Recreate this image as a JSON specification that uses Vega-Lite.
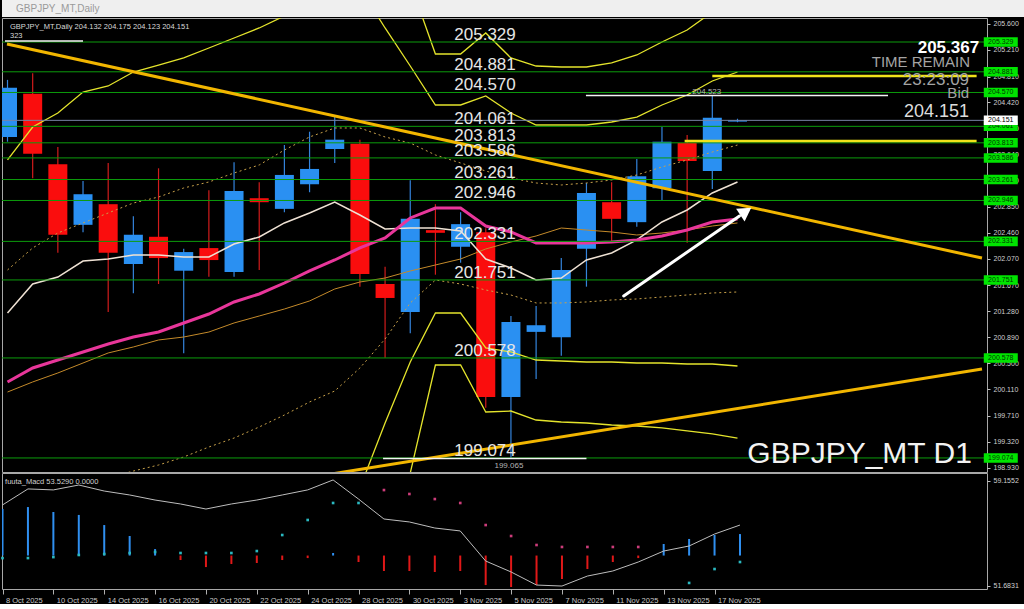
{
"$schema": "https://vega.github.io/schema/vega-lite/v6.json",
"background": "#000000",
"padding": 0,
"bounds": "flush",
"spacing": 1,
"config": {"view": {"stroke": "#a8a8a8", "strokeWidth": 1}, "text": {"font": "Liberation Sans"}, "axis": {"labelFont": "Liberation Sans"}},
"datasets": {
"one": [{"k": 1}],
"ohlc": [
{"i":0,"d":"8 Oct 2025","o":203.90,"h":204.76,"l":203.83,"c":204.64},
{"i":1,"d":"9 Oct 2025","o":204.55,"h":204.86,"l":203.28,"c":203.65},
{"i":2,"d":"10 Oct 2025","o":203.49,"h":203.75,"l":202.16,"c":202.43},
{"i":3,"d":"13 Oct 2025","o":202.58,"h":203.24,"l":202.47,"c":203.04},
{"i":4,"d":"14 Oct 2025","o":202.89,"h":203.51,"l":201.27,"c":202.16},
{"i":5,"d":"15 Oct 2025","o":201.99,"h":202.71,"l":201.55,"c":202.43},
{"i":6,"d":"16 Oct 2025","o":202.40,"h":203.43,"l":201.69,"c":202.08},
{"i":7,"d":"17 Oct 2025","o":201.89,"h":202.22,"l":200.65,"c":202.17},
{"i":8,"d":"20 Oct 2025","o":202.23,"h":203.10,"l":201.80,"c":202.05},
{"i":9,"d":"21 Oct 2025","o":201.87,"h":203.52,"l":201.80,"c":203.09},
{"i":10,"d":"22 Oct 2025","o":202.98,"h":203.22,"l":201.90,"c":202.92},
{"i":11,"d":"23 Oct 2025","o":202.82,"h":203.78,"l":202.77,"c":203.33},
{"i":12,"d":"24 Oct 2025","o":203.19,"h":203.98,"l":203.07,"c":203.42},
{"i":13,"d":"27 Oct 2025","o":203.72,"h":204.20,"l":203.51,"c":203.86},
{"i":14,"d":"28 Oct 2025","o":203.80,"h":203.86,"l":201.65,"c":201.84},
{"i":15,"d":"29 Oct 2025","o":201.69,"h":201.95,"l":200.58,"c":201.48},
{"i":16,"d":"30 Oct 2025","o":201.27,"h":203.25,"l":200.95,"c":202.67},
{"i":17,"d":"31 Oct 2025","o":202.50,"h":202.89,"l":201.83,"c":202.46},
{"i":18,"d":"3 Nov 2025","o":202.25,"h":202.77,"l":202.01,"c":202.59},
{"i":19,"d":"4 Nov 2025","o":202.47,"h":202.53,"l":199.83,"c":199.99},
{"i":20,"d":"5 Nov 2025","o":199.99,"h":201.21,"l":199.065,"c":201.12},
{"i":21,"d":"6 Nov 2025","o":200.97,"h":201.36,"l":200.26,"c":201.07},
{"i":22,"d":"7 Nov 2025","o":200.89,"h":202.08,"l":200.61,"c":201.90},
{"i":23,"d":"10 Nov 2025","o":202.22,"h":203.21,"l":201.65,"c":203.06},
{"i":24,"d":"11 Nov 2025","o":202.92,"h":203.22,"l":202.32,"c":202.67},
{"i":25,"d":"12 Nov 2025","o":202.62,"h":203.57,"l":202.55,"c":203.31},
{"i":26,"d":"13 Nov 2025","o":203.13,"h":204.05,"l":202.95,"c":203.83},
{"i":27,"d":"14 Nov 2025","o":203.81,"h":203.93,"l":202.31,"c":203.54},
{"i":28,"d":"17 Nov 2025","o":203.39,"h":204.523,"l":203.12,"c":204.19},
{"i":29,"d":"18 Nov 2025","o":204.132,"h":204.175,"l":204.123,"c":204.151}
],
"ind": [
{"i":0,"pink":200.217,"white":201.254,"orange":200.066,"bu":201.901,"bl":198.141,"y0":203.555,"uu":null,"ul":null,"lu":null,"ll":null,"macd":57.45,"hist":57.16,"dot":53.67,"dotc":"c"},
{"i":1,"pink":200.427,"white":201.690,"orange":200.217,"bu":202.232,"bl":198.292,"y0":204.051,"uu":null,"ul":null,"lu":null,"ll":null,"macd":58.59,"hist":57.30,"dot":53.67,"dotc":"c"},
{"i":2,"pink":200.547,"white":201.795,"orange":200.352,"bu":202.457,"bl":198.442,"y0":204.262,"uu":null,"ul":null,"lu":null,"ll":null,"macd":58.52,"hist":56.95,"dot":53.74,"dotc":"c"},
{"i":3,"pink":200.668,"white":202.036,"orange":200.502,"bu":202.608,"bl":198.623,"y0":204.577,"uu":null,"ul":null,"lu":null,"ll":null,"macd":58.87,"hist":56.74,"dot":53.89,"dotc":"c"},
{"i":4,"pink":200.788,"white":202.066,"orange":200.653,"bu":202.758,"bl":198.773,"y0":204.668,"uu":null,"ul":null,"lu":null,"ll":null,"macd":58.44,"hist":56.02,"dot":53.96,"dotc":"c"},
{"i":5,"pink":200.893,"white":202.126,"orange":200.743,"bu":202.908,"bl":198.878,"y0":204.878,"uu":null,"ul":null,"lu":null,"ll":null,"macd":58.16,"hist":55.24,"dot":54.03,"dotc":"c"},
{"i":6,"pink":200.968,"white":202.126,"orange":200.848,"bu":202.998,"bl":198.968,"y0":204.983,"uu":null,"ul":null,"lu":null,"ll":null,"macd":57.80,"hist":54.31,"dot":54.10,"dotc":"c"},
{"i":7,"pink":201.104,"white":202.096,"orange":200.893,"bu":203.134,"bl":199.089,"y0":205.089,"uu":null,"ul":null,"lu":null,"ll":null,"macd":57.52,"hist":53.53,"dot":54.03,"dotc":"c"},
{"i":8,"pink":201.239,"white":202.096,"orange":200.968,"bu":203.224,"bl":199.239,"y0":205.239,"uu":null,"ul":null,"lu":null,"ll":null,"macd":57.16,"hist":53.03,"dot":54.03,"dotc":"c"},
{"i":9,"pink":201.420,"white":202.292,"orange":201.104,"bu":203.359,"bl":199.374,"y0":205.389,"uu":null,"ul":null,"lu":null,"ll":null,"macd":57.52,"hist":53.25,"dot":54.03,"dotc":"c"},
{"i":10,"pink":201.540,"white":202.397,"orange":201.209,"bu":203.480,"bl":199.540,"y0":205.540,"uu":null,"ul":null,"lu":null,"ll":null,"macd":57.80,"hist":53.32,"dot":54.17,"dotc":"c"},
{"i":11,"pink":201.705,"white":202.608,"orange":201.314,"bu":203.705,"bl":199.720,"y0":205.720,"uu":null,"ul":null,"lu":null,"ll":null,"macd":58.16,"hist":53.53,"dot":55.31,"dotc":"c"},
{"i":12,"pink":201.886,"white":202.758,"orange":201.435,"bu":203.901,"bl":199.916,"y0":205.916,"uu":null,"ul":null,"lu":null,"ll":null,"macd":58.52,"hist":53.67,"dot":56.38,"dotc":"c"},
{"i":13,"pink":202.051,"white":202.923,"orange":201.615,"bu":204.036,"bl":200.081,"y0":null,"uu":null,"ul":null,"lu":null,"ll":null,"macd":59.23,"hist":54.03,"dot":57.59,"dotc":"c"},
{"i":14,"pink":202.232,"white":202.728,"orange":201.720,"bu":204.036,"bl":200.427,"y0":null,"uu":null,"ul":206.141,"lu":198.623,"ll":null,"macd":57.87,"hist":53.39,"dot":57.59,"dotc":"c"},
{"i":15,"pink":202.382,"white":202.517,"orange":201.780,"bu":203.901,"bl":200.863,"y0":null,"uu":null,"ul":205.540,"lu":199.600,"ll":197.314,"macd":56.45,"hist":52.75,"dot":58.51,"dotc":"p"},
{"i":16,"pink":202.683,"white":202.532,"orange":201.886,"bu":203.810,"bl":201.405,"y0":null,"uu":206.217,"ul":204.968,"lu":200.517,"ll":198.848,"macd":56.24,"hist":52.75,"dot":58.23,"dotc":"p"},
{"i":17,"pink":202.833,"white":202.532,"orange":201.976,"bu":203.630,"bl":201.750,"y0":null,"uu":205.149,"ul":204.382,"lu":201.254,"ll":200.472,"macd":55.81,"hist":52.68,"dot":57.87,"dotc":"p"},
{"i":18,"pink":202.833,"white":202.487,"orange":202.066,"bu":203.510,"bl":201.690,"y0":null,"uu":205.149,"ul":204.382,"lu":201.254,"ll":200.472,"macd":55.60,"hist":52.75,"dot":57.59,"dotc":"p"},
{"i":19,"pink":202.562,"white":202.066,"orange":202.217,"bu":203.389,"bl":201.600,"y0":null,"uu":205.465,"ul":204.517,"lu":200.728,"ll":199.765,"macd":53.46,"hist":51.75,"dot":56.02,"dotc":"p"},
{"i":20,"pink":202.472,"white":201.931,"orange":202.322,"bu":203.284,"bl":201.525,"y0":null,"uu":205.089,"ul":204.262,"lu":200.668,"ll":199.780,"macd":52.68,"hist":51.61,"dot":55.24,"dotc":"p"},
{"i":21,"pink":202.307,"white":201.750,"orange":202.412,"bu":203.209,"bl":201.405,"y0":null,"uu":204.968,"ul":204.081,"lu":200.547,"ll":199.645,"macd":51.75,"hist":51.75,"dot":54.60,"dotc":"p"},
{"i":22,"pink":202.307,"white":201.780,"orange":202.532,"bu":203.179,"bl":201.405,"y0":null,"uu":204.953,"ul":204.081,"lu":200.532,"ll":199.615,"macd":51.68,"hist":52.18,"dot":54.46,"dotc":"p"},
{"i":23,"pink":202.307,"white":202.051,"orange":202.502,"bu":203.209,"bl":201.420,"y0":null,"uu":204.953,"ul":204.081,"lu":200.517,"ll":199.600,"macd":52.39,"hist":52.89,"dot":54.46,"dotc":"p"},
{"i":24,"pink":202.322,"white":202.156,"orange":202.472,"bu":203.254,"bl":201.450,"y0":null,"uu":205.014,"ul":204.126,"lu":200.517,"ll":199.570,"macd":52.75,"hist":53.39,"dot":54.46,"dotc":"p"},
{"i":25,"pink":202.352,"white":202.352,"orange":202.427,"bu":203.329,"bl":201.465,"y0":null,"uu":205.134,"ul":204.201,"lu":200.502,"ll":199.555,"macd":53.39,"hist":53.67,"dot":54.46,"dotc":"p"},
{"i":26,"pink":202.412,"white":202.623,"orange":202.457,"bu":203.450,"bl":201.495,"y0":null,"uu":205.329,"ul":204.382,"lu":200.502,"ll":199.525,"macd":54.17,"hist":54.67,"dot":null,"dotc":"c"},
{"i":27,"pink":202.502,"white":202.803,"orange":202.502,"bu":203.555,"bl":201.525,"y0":null,"uu":205.510,"ul":204.532,"lu":200.487,"ll":199.480,"macd":54.53,"hist":55.03,"dot":51.90,"dotc":"c"},
{"i":28,"pink":202.623,"white":203.059,"orange":202.562,"bu":203.675,"bl":201.555,"y0":null,"uu":205.780,"ul":204.743,"lu":200.487,"ll":199.435,"macd":55.38,"hist":55.31,"dot":52.89,"dotc":"c"},
{"i":29,"pink":202.668,"white":203.224,"orange":202.608,"bu":203.780,"bl":201.570,"y0":null,"uu":206.036,"ul":204.878,"lu":200.457,"ll":199.374,"macd":56.02,"hist":55.38,"dot":53.39,"dotc":"c"}
],
"levels": [{"v":205.329},{"v":204.881},{"v":204.570},{"v":204.061},{"v":203.813},{"v":203.586},{"v":203.261},{"v":202.946},{"v":202.331},{"v":201.751},{"v":200.578},{"v":199.074}],
"bid": [{"v":204.151}],
"wsegs": [{"x":-0.1,"x2":3.0,"y":205.344},{"x":22.98,"x2":34.98,"y":204.523},{"x":14.92,"x2":23.0,"y":199.065}],
"ysegs": [{"x":28.0,"x2":38.5,"y":204.818},{"x":26.9,"x2":38.5,"y":203.841}],
"trend": [{"s":"down","i":-0.02,"p":205.30},{"s":"down","i":38.714,"p":202.08},{"s":"up","i":12.0,"p":198.78},{"s":"up","i":38.714,"p":200.412}],
"arrow": [{"x":24.48,"y":201.51,"x2":29.08,"y2":202.713}],
"arrowhead": [{"x":29.33,"y":202.781}]
},
"vconcat": [
{
"width": 1024, "height": 17,
"view": {"fill": "#efefef", "stroke": null},
"data": {"values": [{"t": "GBPJPY_MT,Daily"}]},
"mark": {"type": "text", "align": "left", "baseline": "middle", "fontSize": 10, "color": "#9a9a9a"},
"encoding": {
"text": {"field": "t"},
"x": {"datum": 0.0137, "type": "quantitative", "scale": {"domain": [0, 1]}, "axis": null},
"y": {"datum": 0.5, "type": "quantitative", "scale": {"domain": [0, 1]}, "axis": null}
}
},
{
"width": 985, "height": 454,
"data": {"name": "one"},
"resolve": {"axis": {"x": "independent", "y": "independent"}},
"layer": [
{"data": {"name": "ohlc"}, "mark": {"type": "rule", "strokeWidth": 1.2, "clip": true},
"encoding": {
"x": {"field": "i", "type": "quantitative", "scale": {"domain": [-0.02, 38.714], "nice": false, "zero": false}, "axis": null},
"y": {"field": "l", "type": "quantitative", "scale": {"domain": [198.863, 205.69], "nice": false, "zero": false},
"axis": {"orient": "right", "title": null, "values": [205.6, 205.21, 204.81, 204.42, 204.03, 203.64, 203.24, 202.85, 202.46, 202.07, 201.67, 201.28, 200.89, 200.5, 200.11, 199.71, 199.32, 198.93], "format": ".3f", "labelFontSize": 7, "labelColor": "#d0d0d0", "tickColor": "#c0c0c0", "tickSize": 3, "labelPadding": 3, "domain": false, "grid": false, "labelOverlap": false, "labelBound": false}},
"y2": {"field": "h"},
"color": {"condition": {"test": "datum.c >= datum.o", "value": "#3484dc"}, "value": "#d21c1c"}
}},
{"data": {"name": "ohlc"}, "mark": {"type": "bar", "size": 19, "clip": true},
"encoding": {
"x": {"field": "i", "type": "quantitative", "axis": null},
"y": {"field": "o", "type": "quantitative", "axis": null},
"y2": {"field": "c"},
"color": {"condition": {"test": "datum.c >= datum.o", "value": "#2a90f2"}, "value": "#fa0d0d"}
}},
{"data": {"name": "ind"}, "mark": {"type": "line", "color": "#e4e42c", "strokeWidth": 1.3, "clip": true}, "encoding": {"x": {"field": "i", "type": "quantitative", "axis": null}, "y": {"field": "y0", "type": "quantitative", "axis": null}}},
{"data": {"name": "ind"}, "mark": {"type": "line", "color": "#e4e42c", "strokeWidth": 1.3, "clip": true}, "encoding": {"x": {"field": "i", "type": "quantitative", "axis": null}, "y": {"field": "uu", "type": "quantitative", "axis": null}}},
{"data": {"name": "ind"}, "mark": {"type": "line", "color": "#e4e42c", "strokeWidth": 1.3, "clip": true}, "encoding": {"x": {"field": "i", "type": "quantitative", "axis": null}, "y": {"field": "ul", "type": "quantitative", "axis": null}}},
{"data": {"name": "ind"}, "mark": {"type": "line", "color": "#e4e42c", "strokeWidth": 1.3, "clip": true}, "encoding": {"x": {"field": "i", "type": "quantitative", "axis": null}, "y": {"field": "lu", "type": "quantitative", "axis": null}}},
{"data": {"name": "ind"}, "mark": {"type": "line", "color": "#e4e42c", "strokeWidth": 1.3, "clip": true}, "encoding": {"x": {"field": "i", "type": "quantitative", "axis": null}, "y": {"field": "ll", "type": "quantitative", "axis": null}}},
{"data": {"name": "ind"}, "mark": {"type": "line", "color": "#c9a24a", "strokeWidth": 1, "strokeDash": [2, 3], "clip": true}, "encoding": {"x": {"field": "i", "type": "quantitative", "axis": null}, "y": {"field": "bu", "type": "quantitative", "axis": null}}},
{"data": {"name": "ind"}, "mark": {"type": "line", "color": "#c9a24a", "strokeWidth": 1, "strokeDash": [2, 3], "clip": true}, "encoding": {"x": {"field": "i", "type": "quantitative", "axis": null}, "y": {"field": "bl", "type": "quantitative", "axis": null}}},
{"data": {"name": "ind"}, "mark": {"type": "line", "color": "#c48a2a", "strokeWidth": 1, "clip": true}, "encoding": {"x": {"field": "i", "type": "quantitative", "axis": null}, "y": {"field": "orange", "type": "quantitative", "axis": null}}},
{"data": {"name": "ind"}, "mark": {"type": "line", "color": "#efe2d4", "strokeWidth": 1.5, "clip": true}, "encoding": {"x": {"field": "i", "type": "quantitative", "axis": null}, "y": {"field": "white", "type": "quantitative", "axis": null}}},
{"data": {"name": "ind"}, "mark": {"type": "line", "color": "#e8369a", "strokeWidth": 3, "clip": true}, "encoding": {"x": {"field": "i", "type": "quantitative", "axis": null}, "y": {"field": "pink", "type": "quantitative", "axis": null}}},
{"data": {"name": "levels"}, "mark": {"type": "rule", "color": "#0c9c0c", "strokeWidth": 1}, "encoding": {"y": {"field": "v", "type": "quantitative", "axis": null}}},
{"data": {"name": "bid"}, "mark": {"type": "rule", "color": "#7884a6", "strokeWidth": 1}, "encoding": {"y": {"field": "v", "type": "quantitative", "axis": null}}},
{"data": {"name": "trend"}, "mark": {"type": "line", "color": "#f2b600", "strokeWidth": 3, "clip": true}, "encoding": {"x": {"field": "i", "type": "quantitative", "axis": null}, "y": {"field": "p", "type": "quantitative", "axis": null}, "detail": {"field": "s"}}},
{"data": {"name": "wsegs"}, "mark": {"type": "rule", "color": "#f4f4f4", "strokeWidth": 1.5, "clip": true}, "encoding": {"x": {"field": "x", "type": "quantitative", "axis": null}, "x2": {"field": "x2"}, "y": {"field": "y", "type": "quantitative", "axis": null}}},
{"data": {"name": "ysegs"}, "mark": {"type": "rule", "color": "#f0e21a", "strokeWidth": 2.5, "clip": true}, "encoding": {"x": {"field": "x", "type": "quantitative", "axis": null}, "x2": {"field": "x2"}, "y": {"field": "y", "type": "quantitative", "axis": null}}},
{"data": {"name": "arrow"}, "mark": {"type": "rule", "color": "#ffffff", "strokeWidth": 3, "strokeCap": "round"}, "encoding": {"x": {"field": "x", "type": "quantitative", "axis": null}, "y": {"field": "y", "type": "quantitative", "axis": null}, "x2": {"field": "x2"}, "y2": {"field": "y2"}}},
{"data": {"name": "arrowhead"}, "mark": {"type": "point", "shape": "triangle-up", "angle": 56, "size": 230, "filled": true, "color": "#ffffff", "opacity": 1}, "encoding": {"x": {"field": "x", "type": "quantitative", "axis": null}, "y": {"field": "y", "type": "quantitative", "axis": null}}},
{"data": {"name": "levels"}, "mark": {"type": "text", "align": "left", "baseline": "alphabetic", "dy": -2, "fontSize": 17, "color": "#e6e6e6"}, "encoding": {"x": {"datum": 17.75, "type": "quantitative", "axis": null}, "y": {"field": "v", "type": "quantitative", "axis": null}, "text": {"field": "v", "format": ".3f"}}},
{"mark": {"type": "text", "text": "GBPJPY_MT,Daily  204.132 204.175 204.123 204.151", "align": "left", "baseline": "alphabetic", "fontSize": 7.5, "color": "#d8d8d8"}, "encoding": {"x": {"datum": 0.1, "type": "quantitative", "axis": null}, "y": {"datum": 205.525, "type": "quantitative", "axis": null}}},
{"mark": {"type": "text", "text": "323", "align": "left", "baseline": "alphabetic", "fontSize": 7.5, "color": "#d8d8d8"}, "encoding": {"x": {"datum": 0.1, "type": "quantitative", "axis": null}, "y": {"datum": 205.39, "type": "quantitative", "axis": null}}},
{"mark": {"type": "text", "text": "205.367", "align": "right", "baseline": "alphabetic", "fontSize": 17, "fontWeight": "bold", "color": "#ffffff"}, "encoding": {"x": {"datum": 38.6, "type": "quantitative", "axis": null}, "y": {"datum": 205.17, "type": "quantitative", "axis": null}}},
{"mark": {"type": "text", "text": "TIME REMAIN", "align": "right", "baseline": "alphabetic", "fontSize": 15, "color": "#a4a4a4"}, "encoding": {"x": {"datum": 38.24, "type": "quantitative", "axis": null}, "y": {"datum": 204.953, "type": "quantitative", "axis": null}}},
{"mark": {"type": "text", "text": "23:23:09", "align": "right", "baseline": "alphabetic", "fontSize": 17, "color": "#a4a4a4"}, "encoding": {"x": {"datum": 38.2, "type": "quantitative", "axis": null}, "y": {"datum": 204.69, "type": "quantitative", "axis": null}}},
{"mark": {"type": "text", "text": "Bid", "align": "right", "baseline": "alphabetic", "fontSize": 15, "color": "#a4a4a4"}, "encoding": {"x": {"datum": 38.2, "type": "quantitative", "axis": null}, "y": {"datum": 204.49, "type": "quantitative", "axis": null}}},
{"mark": {"type": "text", "text": "204.151", "align": "right", "baseline": "alphabetic", "fontSize": 18, "color": "#dcdcdc"}, "encoding": {"x": {"datum": 38.2, "type": "quantitative", "axis": null}, "y": {"datum": 204.201, "type": "quantitative", "axis": null}}},
{"mark": {"type": "text", "text": "GBPJPY_MT D1", "align": "left", "baseline": "alphabetic", "fontSize": 30, "color": "#f2f2f2"}, "encoding": {"x": {"datum": 29.39, "type": "quantitative", "axis": null}, "y": {"datum": 199.0, "type": "quantitative", "axis": null}}},
{"mark": {"type": "text", "text": "204.523", "align": "center", "baseline": "alphabetic", "fontSize": 8, "color": "#b4b4b4"}, "encoding": {"x": {"datum": 27.78, "type": "quantitative", "axis": null}, "y": {"datum": 204.547, "type": "quantitative", "axis": null}}},
{"mark": {"type": "text", "text": "199.065", "align": "center", "baseline": "middle", "fontSize": 8, "color": "#b4b4b4"}, "encoding": {"x": {"datum": 19.92, "type": "quantitative", "axis": null}, "y": {"datum": 198.953, "type": "quantitative", "axis": null}}},
{"data": {"name": "levels"}, "mark": {"type": "point", "shape": "M-1,-0.28L1,-0.28L1,0.28L-1,0.28Z", "size": 1156, "filled": true, "color": "#00e400", "opacity": 1}, "encoding": {"x": {"datum": 39.46, "type": "quantitative", "axis": null}, "y": {"field": "v", "type": "quantitative", "axis": null}}},
{"data": {"name": "levels"}, "mark": {"type": "text", "align": "center", "baseline": "middle", "fontSize": 7, "color": "#003800"}, "encoding": {"x": {"datum": 39.46, "type": "quantitative", "axis": null}, "y": {"field": "v", "type": "quantitative", "axis": null}, "text": {"field": "v", "format": ".3f"}}},
{"data": {"name": "bid"}, "mark": {"type": "point", "shape": "M-1,-0.28L1,-0.28L1,0.28L-1,0.28Z", "size": 1156, "filled": true, "color": "#ffffff", "opacity": 1}, "encoding": {"x": {"datum": 39.46, "type": "quantitative", "axis": null}, "y": {"field": "v", "type": "quantitative", "axis": null}}},
{"data": {"name": "bid"}, "mark": {"type": "text", "align": "center", "baseline": "middle", "fontSize": 7, "color": "#000000"}, "encoding": {"x": {"datum": 39.46, "type": "quantitative", "axis": null}, "y": {"field": "v", "type": "quantitative", "axis": null}, "text": {"field": "v", "format": ".3f"}}}
]
},
{
"width": 985, "height": 116,
"data": {"name": "ind"},
"resolve": {"axis": {"x": "independent", "y": "independent"}},
"layer": [
{"mark": {"type": "rule", "strokeWidth": 2, "clip": true},
"encoding": {
"x": {"field": "i", "type": "quantitative", "scale": {"domain": [-0.02, 38.714], "nice": false, "zero": false},
"axis": {"values": [0, 2, 4, 6, 8, 10, 12, 14, 16, 18, 20, 22, 24, 26, 28], "labelExpr": "['8 Oct 2025','10 Oct 2025','14 Oct 2025','16 Oct 2025','20 Oct 2025','22 Oct 2025','24 Oct 2025','28 Oct 2025','30 Oct 2025','3 Nov 2025','5 Nov 2025','7 Nov 2025','11 Nov 2025','13 Nov 2025','17 Nov 2025'][datum.value / 2]", "title": null, "labelAlign": "left", "labelOffset": 3, "labelPadding": 2, "labelFontSize": 7.5, "labelColor": "#c8c8c8", "tickColor": "#b0b0b0", "tickSize": 5, "domain": false, "grid": false, "labelOverlap": false, "labelFlush": false, "labelBound": false}},
"y": {"field": "hist", "type": "quantitative", "scale": {"domain": [51.469, 59.724], "nice": false, "zero": false},
"axis": {"orient": "right", "title": null, "values": [59.1552, 51.6831], "format": ".4f", "labelFontSize": 7, "labelColor": "#d0d0d0", "tickColor": "#c0c0c0", "tickSize": 3, "labelPadding": 3, "domain": false, "grid": false, "labelOverlap": false, "labelBound": false}},
"y2": {"datum": 53.85},
"color": {"condition": {"test": "datum.hist >= 53.85", "value": "#2f8ff0"}, "value": "#e01818"}
}},
{"mark": {"type": "line", "color": "#bdbdbd", "strokeWidth": 1, "clip": true},
"encoding": {"x": {"field": "i", "type": "quantitative", "axis": null}, "y": {"field": "macd", "type": "quantitative", "axis": null}}},
{"transform": [{"filter": "datum.dot != null"}], "mark": {"type": "square", "size": 7, "filled": true, "opacity": 1},
"encoding": {"x": {"field": "i", "type": "quantitative", "axis": null}, "y": {"field": "dot", "type": "quantitative", "axis": null},
"color": {"condition": {"test": "datum.dotc === 'p'", "value": "#cc3c7a"}, "value": "#2ab8c0"}}},
{"data": {"name": "one"}, "mark": {"type": "text", "text": "fuuta_Macd 53.5290  0.0000", "align": "left", "baseline": "alphabetic", "fontSize": 7.5, "color": "#d0d0d0"},
"encoding": {"x": {"datum": 0.1, "type": "quantitative", "axis": null}, "y": {"datum": 58.94, "type": "quantitative", "axis": null}}}
]
}
]
}
